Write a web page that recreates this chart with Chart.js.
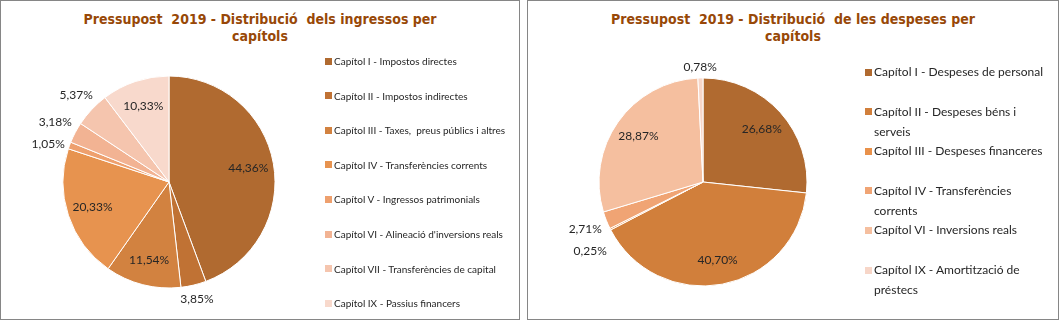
<!DOCTYPE html>
<html>
<head>
<meta charset="utf-8">
<script src="https://cdn.jsdelivr.net/npm/chart.js@4/dist/chart.umd.min.js"></script>
<style>
  body { margin: 0; background: #fff; width: 1062px; height: 325px; position: relative; overflow: hidden; font-family: Lato, sans-serif; }
  .box { position: absolute; top: 0; height: 318px; border: 1px solid #868686; background: #fff; }
  .title { position: absolute; left: 0; right: 0; top: 10px; text-align: center; font: bold 14px "DejaVu Sans Condensed", "DejaVu Sans", sans-serif; color: #984807; line-height: 17px; white-space: pre; }
  canvas { position: absolute; left: 0; top: 0; }
  .item { position: absolute; display: flex; align-items: flex-start; color: #262626; }
  .sw { flex: none; }
</style>
</head>
<body>
<div class="box" id="boxIng" style="left:0;width:518px">
  <div class="title">Pressupost  2019 - Distribució  dels ingressos per
capítols</div>
  <canvas id="ingressos" width="518" height="318"></canvas>
</div>
<div class="box" id="boxDes" style="left:527px;width:530px">
  <div class="title">Pressupost  2019 - Distribució  de les despeses per
capítols</div>
  <canvas id="despeses" width="530" height="318"></canvas>
</div>
<script>
// Ingressos per capítols (%)
const ingCategories = [
  'Capítol I - Impostos directes',
  'Capítol II - Impostos indirectes',
  'Capítol III - Taxes,  preus públics i altres',
  'Capítol IV - Transferències corrents',
  'Capítol V - Ingressos patrimonials',
  'Capítol VI - Alineació d\'inversions reals',
  'Capítol VII - Transferències de capital',
  'Capítol IX - Passius financers'
];
const ingValues = [44.36, 3.85, 11.54, 20.33, 1.05, 3.18, 5.37, 10.33];
const ingColors = ['#B06A30', '#C07234', '#D28240', '#E7934F', '#EEA06E', '#F2B393', '#F5C5AE', '#F8D9CC'];

// Despeses per capítols (%)
const desCategories = [
  'Capítol I - Despeses de personal',
  'Capítol II - Despeses béns i serveis',
  'Capítol III - Despeses financeres',
  'Capítol IV - Transferències corrents',
  'Capítol VI - Inversions reals',
  'Capítol IX - Amortització de préstecs'
];
const desValues = [26.68, 40.70, 0.25, 2.71, 28.87, 0.78];
const desColors = ['#B06A30', '#D17F3B', '#E9914A', '#F0A474', '#F5BF9F', '#F7D6C8'];

// etiquetes de percentatge, dins o fora del sector
const pieLabels = {
  id: 'pieLabels',
  afterDatasetsDraw(chart) {
    const ctx = chart.ctx;
    const meta = chart.getDatasetMeta(0);
    const data = chart.data.datasets[0].data;
    const total = data.reduce((a, b) => a + b, 0);
    ctx.save();
    ctx.font = '12px Lato';
    ctx.fillStyle = '#262626';
    ctx.textAlign = 'center';
    ctx.textBaseline = 'middle';
    const outside = [];
    meta.data.forEach((arc, i) => {
      const p = arc.getProps(['x', 'y', 'startAngle', 'endAngle', 'outerRadius'], true);
      const mid = (p.startAngle + p.endAngle) / 2;
      const txt = data[i].toFixed(2).replace('.', ',') + '%';
      if (data[i] / total >= 0.06) {
        const d = p.outerRadius * 0.76;
        ctx.fillText(txt, p.x + Math.cos(mid) * d, p.y + Math.sin(mid) * d);
      } else {
        const w = ctx.measureText(txt).width;
        const ext = Math.abs(Math.cos(mid)) * w / 2 + Math.abs(Math.sin(mid)) * 6;
        const d = p.outerRadius + 5 + ext;
        outside.push({ txt, w, x: p.x + Math.cos(mid) * d, y: p.y + Math.sin(mid) * d });
      }
    });
    // evita solapaments (recorregut antihorari)
    const placed = [];
    for (let i = outside.length - 1; i >= 0; i--) {
      const l = outside[i];
      placed.forEach(q => {
        if (Math.abs(l.x - q.x) < (l.w + q.w) / 2 && Math.abs(l.y - q.y) < 22) {
          l.y = q.y + 22;
        }
      });
      placed.push(l);
      ctx.fillText(l.txt, l.x, l.y);
    }
    ctx.restore();
  }
};

function makePie(id, labels, values, colors, pad, radius) {
  return new Chart(document.getElementById(id), {
    type: 'pie',
    data: {
      labels: labels,
      datasets: [{
        data: values,
        backgroundColor: colors,
        borderColor: '#ffffff',
        borderWidth: 1,
        hoverOffset: 0
      }]
    },
    options: {
      responsive: false,
      animation: false,
      radius: radius,
      layout: { padding: pad },
      plugins: { legend: { display: false }, tooltip: { enabled: false } }
    },
    plugins: [pieLabels]
  });
}

makePie('ingressos', ingCategories, ingValues, ingColors, { left: 62, top: 75, right: 244, bottom: 31 }, 106);
makePie('despeses', desCategories, desValues, desColors, { left: 71, top: 77, right: 251, bottom: 33 }, 104);

// llegendes
function makeLegend(boxId, labels, colors, opt) {
  const box = document.getElementById(boxId);
  labels.forEach((lab, i) => {
    const it = document.createElement('div');
    it.className = 'item';
    it.style.left = opt.x + 'px';
    it.style.top = (opt.y0 + i * opt.step - opt.lh / 2) + 'px';
    it.style.width = opt.w + 'px';
    it.style.font = opt.font;
    it.style.lineHeight = opt.lh + 'px';
    const sw = document.createElement('span');
    sw.className = 'sw';
    sw.style.width = opt.sw + 'px';
    sw.style.height = opt.sw + 'px';
    sw.style.marginTop = ((opt.lh - opt.sw) / 2) + 'px';
    sw.style.marginRight = '2px';
    sw.style.background = colors[i];
    const tx = document.createElement('span');
    tx.textContent = lab;
    tx.style.whiteSpace = opt.wrap ? 'normal' : 'pre';
    it.appendChild(sw);
    it.appendChild(tx);
    box.appendChild(it);
  });
}

makeLegend('boxIng', ingCategories, ingColors,
  { x: 324, y0: 60, step: 34.6, w: 190, lh: 14, sw: 7, font: '10px Lato', wrap: false });
makeLegend('boxDes', desCategories, desColors,
  { x: 337, y0: 71, step: 39.6, w: 185, lh: 20, sw: 7, font: '12px Lato', wrap: true });
</script>
</body>
</html>
